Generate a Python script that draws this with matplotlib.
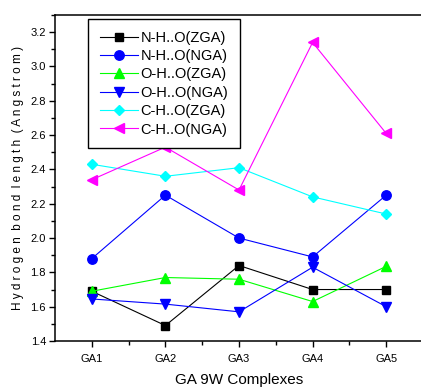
import matplotlib
matplotlib.use('Agg')
import matplotlib.pyplot as plt
import matplotlib.ticker as pltticker

plt.rcParams['font.family'] = ['Liberation Sans', 'DejaVu Sans']

complexes = ['GA1', 'GA2', 'GA3', 'GA4', 'GA5']

nh_o_zga = [1.69, 1.49, 1.84, 1.70, 1.70]
nh_o_nga = [1.88, 2.25, 2.00, 1.89, 2.25]
oh_o_zga = [1.69, 1.77, 1.76, 1.63, 1.835]
oh_o_nga = [1.645, 1.615, 1.57, 1.83, 1.60]
ch_o_zga = [2.43, 2.36, 2.41, 2.24, 2.14]
ch_o_nga = [2.34, 2.53, 2.28, 3.14, 2.61]

series = [
	('N-H..O(ZGA)', nh_o_zga, 'black', 's', 6.0),
	('N-H..O(NGA)', nh_o_nga, '#0000ff', 'o', 6.8),
	('O-H..O(ZGA)', oh_o_zga, '#00ff00', '^', 6.5),
	('O-H..O(NGA)', oh_o_nga, '#0000ff', 'v', 6.5),
	('C-H..O(ZGA)', ch_o_zga, '#00ffff', 'D', 5.0),
	('C-H..O(NGA)', ch_o_nga, '#ff00ff', '<', 6.5),
]

fig = plt.figure(figsize=(4.21, 3.87), dpi=100)
ax = fig.add_axes([55/421, 46/387, 368/421, 326/387])

x = list(range(1, len(complexes)+1))
for label, vals, col, mk, ms in series:
	ax.plot(x, vals, color=col, marker=mk, markersize=ms, linewidth=0.8,
		markeredgecolor=col, markerfacecolor=col, label=label)

ax.set_xlim(0.5, 5.5)
ax.set_ylim(1.4, 3.3)
ax.set_xticks(x)
ax.set_xticklabels(complexes)
ax.xaxis.set_minor_locator(pltticker.FixedLocator([1.5, 2.5, 3.5, 4.5]))
ax.yaxis.set_major_locator(pltticker.MultipleLocator(0.2))
ax.yaxis.set_minor_locator(pltticker.MultipleLocator(0.1))
ax.yaxis.set_major_formatter(pltticker.FormatStrFormatter('%.1f'))

ax.tick_params(which='major', direction='out', length=4.5, width=1.0, labelsize=8, pad=2)
ax.tick_params(which='minor', direction='out', length=3, width=1.0)
ax.tick_params(axis='x', which='major', pad=5)
for sp in ax.spines.values():
	sp.set_linewidth(1.1)

ax.set_xlabel('GA 9W Complexes', fontsize=11, labelpad=6)
ax.set_ylabel('H y d r o g e n  b o n d  l e n g t h  ( A n g s t r o m )', fontsize=8.5, labelpad=5)

leg = ax.legend(loc='upper left', bbox_to_anchor=(88/421, 1-19/387), bbox_transform=fig.transFigure,
	borderaxespad=0, fancybox=False, framealpha=1, edgecolor='black', fontsize=10.5,
	handlelength=2.6, handletextpad=0.2, labelspacing=0.3, borderpad=0.8)
leg.get_frame().set_linewidth(1.0)

fig.savefig('out.png', dpi=100)
